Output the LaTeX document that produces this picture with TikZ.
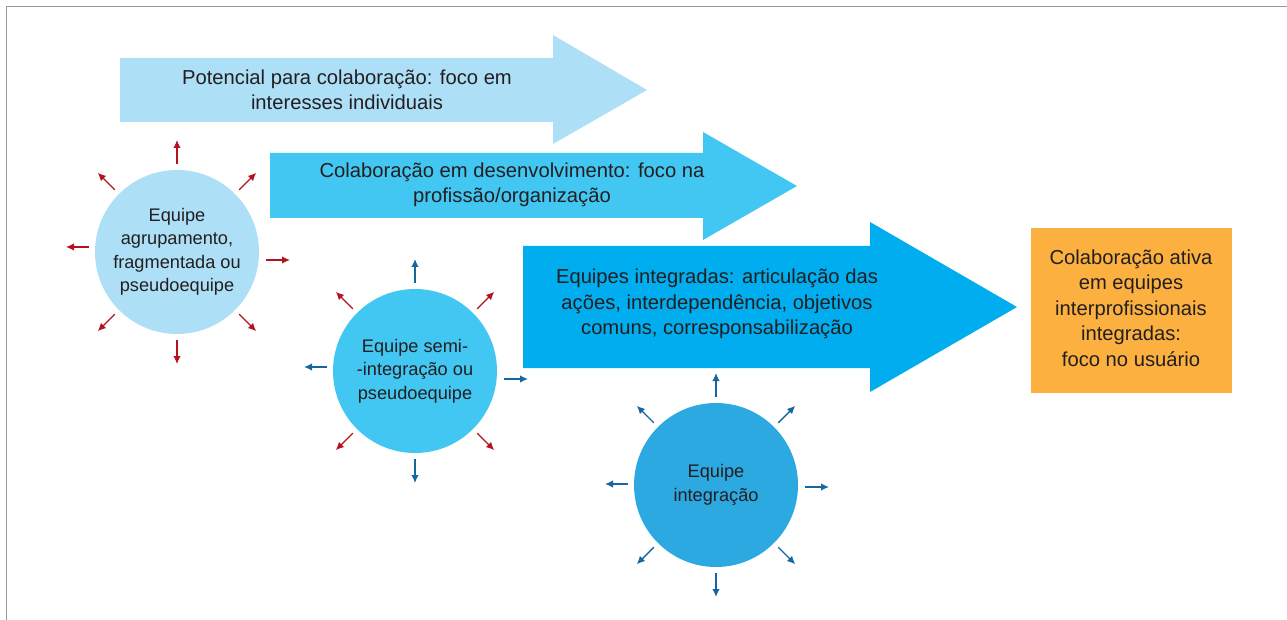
\documentclass[tikz,border=0pt]{standalone}
\usepackage{fontspec}
\setmainfont{Liberation Sans}
\usepackage{tikz}
\usetikzlibrary{arrows.meta,calc}
\definecolor{azulclaro}{HTML}{ADDFF7}
\definecolor{azulmedio}{HTML}{42C7F3}
\definecolor{azulforte}{HTML}{00ADEE}
\definecolor{azulcirc}{HTML}{2DA9E1}
\definecolor{laranja}{HTML}{FBB040}
\definecolor{vermelho}{HTML}{B3131D}
\definecolor{azulseta}{HTML}{16679F}
\definecolor{cortexto}{HTML}{231F20}

\begin{document}
\begin{tikzpicture}[x=1pt,y=-1pt,
  rotulo/.style={text=cortexto,align=center,font=\fontsize{20.2}{25.5}\selectfont},
  circulo/.style={circle,minimum size=164pt,inner sep=0pt,text=cortexto,align=center,font=\fontsize{18.2}{23.5}\selectfont},
  seta/.style={line width=1.4pt,-{Latex[length=8pt,width=7.5pt]}}]
\useasboundingbox (0,0) rectangle (1287,620);
\draw[gray!80,line width=1.6pt] (1287,6.5) -- (6.5,6.5) -- (6.5,620);

% setas grandes
\fill[azulclaro] (120,58) -- (553,58) -- (553,35) -- (647,90) -- (553,144) -- (553,122) -- (120,122) -- cycle;
\fill[azulmedio] (270,153) -- (703,153) -- (703,132) -- (797,186) -- (703,240) -- (703,218) -- (270,218) -- cycle;
\fill[azulforte] (523,246) -- (870,246) -- (870,222) -- (1017,307) -- (870,392) -- (870,368) -- (523,368) -- cycle;
\fill[laranja] (1031,228) rectangle (1232,393);

\node[rotulo] (potencial) at (347,90) {Potencial para colaboração: foco em\\interesses individuais};
\node[rotulo] (desenv) at (512,185) {Colaboração em desenvolvimento: foco na\\profissão/organização};
\node[rotulo] (integradas) at (717,304) {Equipes integradas: articulação das\\ações, interdependência, objetivos\\comuns, corresponsabilização};
\node[rotulo] (ativa) at (1131,308) {Colaboração ativa\\em equipes\\interprofissionais\\integradas:\\foco no usuário};

% equipes
\node[circulo,fill=azulclaro] (agrup) at (177,252) {Equipe\\agrupamento,\\fragmentada ou\\pseudoequipe};
\node[circulo,fill=azulmedio] (semi) at (415,371) {Equipe semi-\\-integração ou\\pseudoequipe};
\node[circulo,fill=azulcirc] (integ) at (716,485) {Equipe\\integração};

% setas pequenas
\foreach \a in {45,90,135,225,270,315}
  \draw[seta,vermelho] ($(agrup)+(\a:88)$) -- ($(agrup)+(\a:112)$);
\draw[seta,vermelho] ($(agrup)+(89,8)$) -- ($(agrup)+(113,8)$);
\draw[seta,vermelho] ($(agrup)+(-88,-5)$) -- ($(agrup)+(-111,-5)$);

\foreach \a in {45,135,225,315}
  \draw[seta,vermelho] ($(semi)+(\a:88)$) -- ($(semi)+(\a:112)$);
\foreach \a in {90,270}
  \draw[seta,azulseta] ($(semi)+(\a:88)$) -- ($(semi)+(\a:112)$);
\draw[seta,azulseta] ($(semi)+(89,8)$) -- ($(semi)+(113,8)$);
\draw[seta,azulseta] ($(semi)+(-88,-4)$) -- ($(semi)+(-111,-4)$);

\foreach \a in {45,90,135,225,270,315}
  \draw[seta,azulseta] ($(integ)+(\a:88)$) -- ($(integ)+(\a:112)$);
\draw[seta,azulseta] ($(integ)+(89,2)$) -- ($(integ)+(113,2)$);
\draw[seta,azulseta] ($(integ)+(-88,-1)$) -- ($(integ)+(-111,-1)$);
\end{tikzpicture}
\end{document}
